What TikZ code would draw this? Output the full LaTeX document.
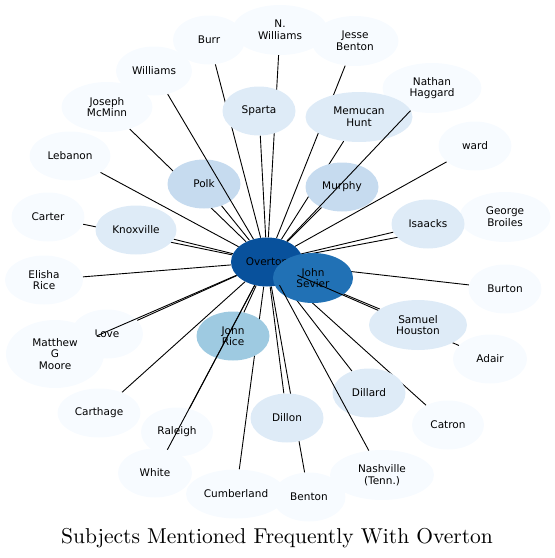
\documentclass[tikz,border=0pt]{standalone}
\usepackage{fontspec}
\newfontfamily\labelfont{DejaVu Sans}
\usetikzlibrary{backgrounds,shapes.geometric}
\definecolor{blues5}{HTML}{08519C}
\definecolor{blues4}{HTML}{2171B5}
\definecolor{blues3}{HTML}{9ECAE1}
\definecolor{blues2}{HTML}{C6DBEF}
\definecolor{blues1}{HTML}{DEEBF7}
\definecolor{blues0}{HTML}{F7FBFF}

\begin{document}
\begin{tikzpicture}[
  x=1pt, y=-1pt,
  subj/.style={ellipse, inner sep=0pt, minimum width=73pt, minimum height=49pt,
               align=center, font=\labelfont\fontsize{10.5}{11.7}\selectfont},
  hub/.style={subj, fill=blues5},
  hot/.style={subj, fill=blues4},
  warm/.style={subj, fill=blues3},
  mid/.style={subj, fill=blues2},
  cool/.style={subj, fill=blues1},
  pale/.style={subj, fill=blues0},
  link/.style={black, line width=0.9pt}
]
\useasboundingbox (0,0) rectangle (555,558);

% outer ring
\node[pale, minimum width=72pt] (burr) at (209,40) {Burr};
\node[pale, minimum width=95pt, minimum height=50pt] (nwill) at (280,30) {N.\\Williams};
\node[pale, minimum width=87pt, minimum height=50pt] (jbenton) at (355,41) {Jesse\\Benton};
\node[pale, minimum width=76pt] (will) at (154,71) {Williams};
\node[pale, minimum width=91pt, minimum height=50pt] (mcminn) at (107,107) {Joseph\\McMinn};
\node[pale, minimum width=99pt, minimum height=50pt] (haggard) at (432,88) {Nathan\\Haggard};
\node[pale] (ward) at (475,146) {ward};
\node[pale, minimum width=81pt] (leb) at (70,156) {Lebanon};
\node[pale] (carter) at (48,217) {Carter};
\node[pale, minimum width=91pt, minimum height=50pt] (broiles) at (505,217) {George\\Broiles};
\node[pale, minimum width=78pt] (erice) at (44,280) {Elisha\\Rice};
\node[pale] (burton) at (505,289) {Burton};
\node[pale, minimum width=72pt] (love) at (107,334) {Love};
\node[pale, minimum width=98pt, minimum height=68pt] (moore) at (55,354) {Matthew\\G\\Moore};
\node[pale, minimum width=74pt] (adair) at (490,359) {Adair};
\node[pale, minimum width=83pt] (carth) at (99,413) {Carthage};
\node[pale, minimum width=72pt] (catron) at (448,425) {Catron};
\node[pale, minimum width=72pt] (ral) at (177,432) {Raleigh};
\node[pale, minimum width=74pt] (white) at (155,473) {White};
\node[pale, minimum width=104pt, minimum height=50pt] (nash) at (382,475) {Nashville\\(Tenn.)};
\node[pale, minimum width=100pt] (cumb) at (236,494) {Cumberland};
\node[pale] (bent) at (309,497) {Benton};

% inner ring
\node[cool] (sparta) at (259,111) {Sparta};
\node[cool, minimum width=107pt, minimum height=50pt] (hunt) at (359,117) {Memucan\\Hunt};
\node[mid] (polk) at (204,184) {Polk};
\node[mid] (murphy) at (342,187) {Murphy};
\node[cool, minimum width=81pt] (knox) at (136,230) {Knoxville};
\node[cool] (isaacks) at (428,224) {Isaacks};
\node[cool] (dillard) at (369,393) {Dillard};
\node[cool] (dillon) at (287,418) {Dillon};
\node[warm] (jrice) at (233,336) {John\\Rice};
\node[hub, minimum width=72pt] (ovt) at (267,262) {Overton};
\node[hot, minimum width=80pt, minimum height=50pt] (sev) at (313,278) {John\\Sevier};

\draw[link] (ovt) -- (adair);
\node[cool, minimum width=98pt, minimum height=50pt] (houston) at (418,325) {Samuel\\Houston};

\draw[link] (ovt) -- (will);
\draw[link] (ovt) -- (haggard);
\draw[link] (ovt) -- (nash);
\draw[link] (ovt) -- (ral);
\draw[link] (ovt) -- (white);
\draw[link] (ovt) -- (moore);

\begin{scope}[on background layer]
  \foreach \n in {burr,nwill,jbenton,hunt,mcminn,carter,broiles,burton,houston,
                  catron,dillard,bent,cumb,love,sparta,polk,murphy,knox,isaacks,
                  jrice,dillon,leb,erice,carth,ward}
    \draw[link] (ovt) -- (\n);
\end{scope}

\node[anchor=base, font=\fontsize{10}{12}\selectfont, scale=2.15] (title) at (277,543)
  {Subjects Mentioned Frequently With Overton};
\end{tikzpicture}
\end{document}
